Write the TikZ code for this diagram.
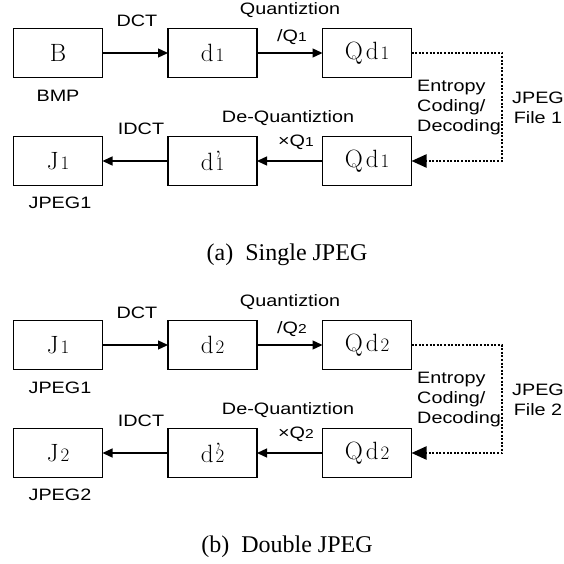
\documentclass[tikz,border=0pt]{standalone}
\usepackage{fontspec}
\newfontfamily\lblfont[FakeStretch=1.2]{Liberation Sans}
\newfontfamily\capfont{Liberation Serif}
\usetikzlibrary{positioning,arrows.meta}
\newcommand\bdig[1]{\kern2pt{\fontsize{19}{19}\selectfont #1}}
\newcommand\ldig[1]{{\fontsize{13}{13}\selectfont #1}}
\newcommand\dprime{\rlap{\kern1.5pt\raisebox{2.5pt}{’}}}
\begin{document}
\begin{tikzpicture}[x=1pt,y=-1pt,node distance=59pt and 65.5pt,
				blk/.style={draw, line width=1.5pt, minimum width=89pt, minimum height=49pt, inner sep=0, outer sep=0, font=\fontsize{25}{25}\selectfont},
				lbl/.style={font=\lblfont\fontsize{16.5}{20}\selectfont, inner sep=0},
				subcap/.style={font=\capfont\fontsize{24}{24}\selectfont, inner sep=0},
				>={Triangle[length=10pt,width=9pt]},
				file/.style={line width=2.2pt, dash pattern=on 2pt off 1.6pt, -{Triangle[length=15pt,width=13pt]}}]
				
				\useasboundingbox (0,0) rectangle (563,564);
				
				% (a) single
				\begin{scope}
				\node [blk] (b) at (58,53) {B};
				\node [blk,right=of b] (d1) {d\bdig{1}};
				\node [blk,right=of d1] (qd1) {Q\kern3pt d\bdig{1}};
				\node [blk,below=of b] (j1) {J\bdig{1}};
				\node [blk,right=of j1] (dd1) {d\dprime\bdig{1}};
				\node [blk,right=of dd1] (qr1) {Q\kern3pt d\bdig{1}};
				\coordinate (f1) at (502,53);
				\begin{scope}[->,line width=1.3pt]
				\draw (b) -- (d1);
				\draw (d1) -- (qd1);
				\draw (qr1) -- (dd1);
				\draw (dd1) -- (j1);
				\end{scope}
				\draw [file] (qd1) -- (f1) |- (qr1);
				\node [lbl] (dct1) at (137,21) {DCT};
				\node [lbl] (qz1) at (290,10) {Quantiztion};
				\node [lbl] (dq1) at (292,37) {/Q\ldig{1}};
				\node [lbl] (bmp) at (58,96) {BMP};
				\node [lbl] (idct1) at (141,129) {IDCT};
				\node [lbl] (dqz1) at (288,118) {De-Quantiztion};
				\node [lbl] (mq1) at (296,142) {×Q\ldig{1}};
				\node [lbl,anchor=west,align=left] (ent1) at (417,108) {Entropy\\Coding/\\Decoding};
				\node [lbl,align=center] (jf1) at (538,108) {JPEG\\File 1};
				\node [lbl] (jp1) at (60,203) {JPEG1};
				\node [subcap] (capa) at (287,255) {(a)\enspace Single JPEG};
				\end{scope}
				
				% (b) double
				\begin{scope}[shift={(0,292)}]
				\node [blk] (j1b) at (58,53) {J\bdig{1}};
				\node [blk,right=of j1b] (d2) {d\bdig{2}};
				\node [blk,right=of d2] (qd2) {Q\kern3pt d\bdig{2}};
				\node [blk,below=of j1b] (j2) {J\bdig{2}};
				\node [blk,right=of j2] (dd2) {d\dprime\bdig{2}};
				\node [blk,right=of dd2] (qr2) {Q\kern3pt d\bdig{2}};
				\coordinate (f2) at (502,53);
				\begin{scope}[->,line width=1.3pt]
				\draw (j1b) -- (d2);
				\draw (d2) -- (qd2);
				\draw (qr2) -- (dd2);
				\draw (dd2) -- (j2);
				\end{scope}
				\draw [file] (qd2) -- (f2) |- (qr2);
				\node [lbl] (dct2) at (137,21) {DCT};
				\node [lbl] (qz2) at (290,10) {Quantiztion};
				\node [lbl] (dq2) at (292,37) {/Q\ldig{2}};
				\node [lbl] (jp1b) at (60,96) {JPEG1};
				\node [lbl] (idct2) at (141,129) {IDCT};
				\node [lbl] (dqz2) at (288,118) {De-Quantiztion};
				\node [lbl] (mq2) at (296,142) {×Q\ldig{2}};
				\node [lbl,anchor=west,align=left] (ent2) at (417,108) {Entropy\\Coding/\\Decoding};
				\node [lbl,align=center] (jf2) at (538,108) {JPEG\\File 2};
				\node [lbl] (jp2) at (60,203) {JPEG2};
				\node [subcap] (capb) at (287,255) {(b)\enspace Double JPEG};
				\end{scope}
				\end{tikzpicture}
\end{document}
